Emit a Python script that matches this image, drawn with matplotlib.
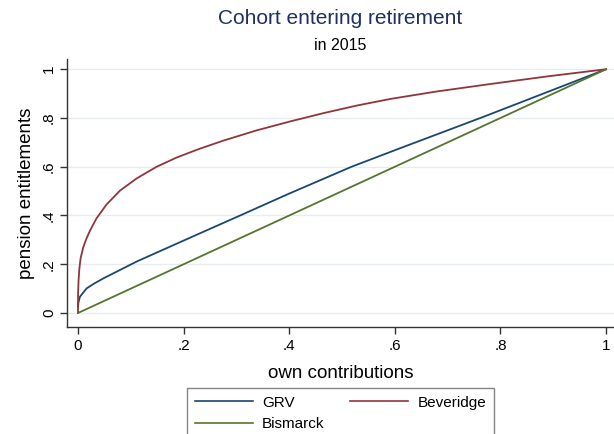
import matplotlib.pyplot as plt
from matplotlib.lines import Line2D

plt.rcParams['font.family'] = ['Liberation Sans', 'DejaVu Sans']

# Values
x_grv = [0.0, 0.001, 0.0038, 0.0164, 0.030, 0.048, 0.111, 0.174, 0.231,
         0.307, 0.40, 0.518, 0.61, 0.768, 1.0]
y_grv = [0.026, 0.045, 0.067, 0.101, 0.120, 0.142, 0.211, 0.272, 0.327,
         0.400, 0.490, 0.600, 0.676, 0.805, 1.0]

x_bev = [0.0, 0.0002, 0.001, 0.0025, 0.005, 0.010, 0.016, 0.0227, 0.035,
         0.054, 0.0795, 0.111, 0.149, 0.187, 0.228, 0.275, 0.338, 0.402,
         0.465, 0.528, 0.591, 0.68, 0.783, 0.89, 1.0]
y_bev = [0.0, 0.080, 0.130, 0.180, 0.225, 0.270, 0.305, 0.338, 0.388,
         0.445, 0.502, 0.552, 0.600, 0.638, 0.672, 0.707, 0.749, 0.786,
         0.820, 0.851, 0.878, 0.909, 0.940, 0.971, 1.0]

x_bis = [0.0, 1.0]
y_bis = [0.0, 1.0]

xticks = [0, 0.2, 0.4, 0.6, 0.8, 1]
xtick_labels = ['0', '.2', '.4', '.6', '.8', '1']
yticks = [0, 0.2, 0.4, 0.6, 0.8, 1]
ytick_labels = ['0', '.2', '.4', '.6', '.8', '1']

navy = '#1a476f'
maroon = '#90353b'
green = '#55752f'

W, H = 614, 434
fig = plt.figure(figsize=(W / 100, H / 100), dpi=100)
fig.patch.set_facecolor('white')
ax = fig.add_axes([67 / W, 1 - 327 / H, (W - 67) / W, (327 - 59) / H])

ax.plot(x_grv, y_grv, color=navy, lw=1.3)
ax.plot(x_bev, y_bev, color=maroon, lw=1.3)
ax.plot(x_bis, y_bis, color=green, lw=1.3)

ax.set_xlim(-0.0208, 1.015)
ax.set_ylim(-0.0574, 1.042)
ax.set_xticks(xticks, xtick_labels)
ax.set_yticks(yticks, ytick_labels)
ax.tick_params(axis='both', direction='out', length=5, width=1, color='#333333',
               labelsize=11, pad=4)
ax.tick_params(axis='y', labelrotation=90, pad=3)
for lab in ax.get_yticklabels():
    lab.set_va('center')
ax.grid(axis='y', color='#e6ecef', lw=1)
ax.set_axisbelow(True)
for s in ['top', 'right']:
    ax.spines[s].set_visible(False)
for s in ['left', 'bottom']:
    ax.spines[s].set_color('#333333')
    ax.spines[s].set_linewidth(1)

ax.set_xlabel('own contributions', fontsize=13.5, labelpad=8)
ax.set_ylabel('pension entitlements', fontsize=13.5, labelpad=5)

fig.text(340 / W, 1 - 19 / H, 'Cohort entering retirement', ha='center', va='center',
         fontsize=15, color='#1e3160')
fig.text(340 / W, 1 - 46 / H, 'in 2015', ha='center', va='center', fontsize=11.5)

handles = [Line2D([], [], color=navy, lw=1.2),
           Line2D([], [], color=green, lw=1.2),
           Line2D([], [], color=maroon, lw=1.2)]
leg = fig.legend(handles, ['GRV', 'Bismarck', 'Beveridge'], ncol=2,
                 loc='upper center', bbox_to_anchor=(340.5 / W, 1 - 388 / H),
                 fontsize=11, frameon=True, fancybox=False, handlelength=3.8,
                 handletextpad=0.6, columnspacing=1.7, borderpad=0.5,
                 labelspacing=0.5, borderaxespad=0)
leg.get_frame().set_edgecolor('#666666')
leg.get_frame().set_linewidth(1)

fig.savefig('out.png', dpi=100)
